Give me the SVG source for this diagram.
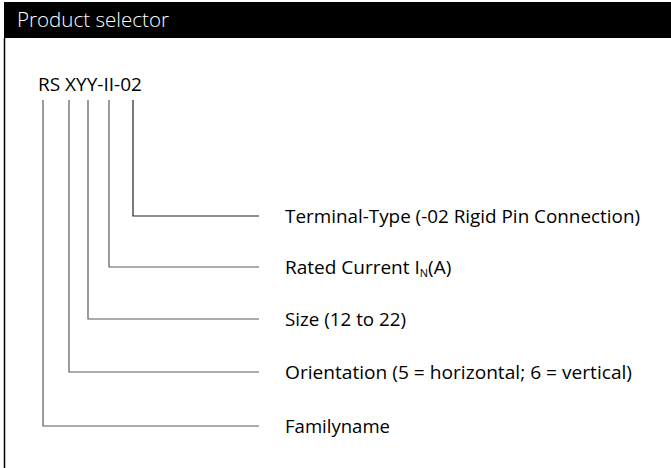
<svg xmlns="http://www.w3.org/2000/svg" width="671" height="468" viewBox="0 0 671 468">
<style>
.lbl{font-family:"Open Sans","Liberation Sans",sans-serif;font-size:19px;fill:#000}
.ln{fill:none;stroke:#5a5a5a;stroke-width:1.2}
</style>
<rect width="671" height="468" fill="#fff"/>
<rect x="4" y="2" width="667" height="36" fill="#000"/>
<line x1="4.5" y1="38" x2="4.5" y2="468" stroke="#000" stroke-width="1.5"/>
<text x="17" y="27" font-family="Open Sans, Liberation Sans, sans-serif" font-weight="300" font-size="20.5" fill="#fff" textLength="152" lengthAdjust="spacingAndGlyphs">Product selector</text>
<g id="code"><text x="38" y="91" font-family="Open Sans, Liberation Sans, sans-serif" font-size="19" fill="#000" textLength="104" lengthAdjust="spacingAndGlyphs">RS XYY-II-02</text></g>
<g id="connectors">
<polyline class="ln" points="133,100 133,216 259,216" style="stroke:#222"/>
<polyline class="ln" points="109,100 109,267 259,267"/>
<polyline class="ln" points="88,100 88,319 259,319"/>
<polyline class="ln" points="69,100 69,372 259,372"/>
<polyline class="ln" points="43,100 43,426 259,426"/>
</g>
<g id="terminal"><text class="lbl" x="285" y="223" textLength="355" lengthAdjust="spacingAndGlyphs">Terminal-Type (-02 Rigid Pin Connection)</text></g>
<g id="rated"><text class="lbl" x="285" y="274">Rated Current I<tspan font-size="11" dy="3">N</tspan><tspan dy="-3">(A)</tspan></text></g>
<g id="size"><text class="lbl" x="285" y="326" textLength="121" lengthAdjust="spacingAndGlyphs">Size (12 to 22)</text></g>
<g id="orientation"><text class="lbl" x="285" y="379" textLength="347" lengthAdjust="spacingAndGlyphs">Orientation (5 = horizontal; 6 = vertical)</text></g>
<g id="familyname"><text class="lbl" x="285" y="433" textLength="105" lengthAdjust="spacingAndGlyphs">Familyname</text></g>
</svg>
